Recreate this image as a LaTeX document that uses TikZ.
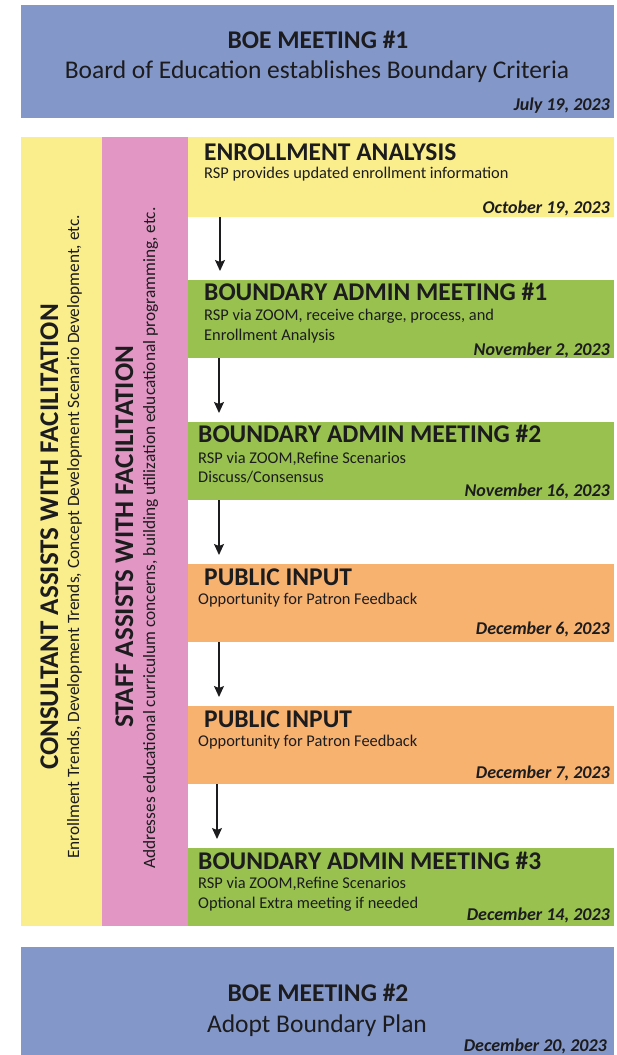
\documentclass[tikz,border=0pt]{standalone}
\usepackage{fontspec}
\setmainfont{Carlito}
\usetikzlibrary{arrows.meta}

\definecolor{boeblue}{RGB}{131,151,201}
\definecolor{padyellow}{RGB}{250,238,140}
\definecolor{padpink}{RGB}{225,150,196}
\definecolor{padgreen}{RGB}{153,193,79}
\definecolor{padorange}{RGB}{248,178,112}
\definecolor{inkdark}{RGB}{28,28,30}

\tikzset{
  band/.style={draw=none, inner sep=0pt, anchor=north west},
  boehead/.style={inner sep=0pt, anchor=base, text=inkdark, font=\fontsize{25.5}{30}\selectfont\bfseries},
  boesub/.style={inner sep=0pt, anchor=base, text=inkdark, font=\fontsize{25.5}{30}\selectfont},
  stephead/.style={inner sep=0pt, anchor=base west, text=inkdark, font=\fontsize{25.5}{30}\selectfont\bfseries},
  stepsub/.style={inner sep=0pt, anchor=base west, text=inkdark, font=\fontsize{16.4}{19}\selectfont},
  datetag/.style={inner sep=0pt, anchor=base east, text=inkdark, font=\fontsize{18}{21}\selectfont\bfseries\itshape},
  sidehead/.style={inner sep=0pt, anchor=base, rotate=90, text=inkdark, font=\fontsize{27}{31}\selectfont\bfseries},
  sidesub/.style={inner sep=0pt, anchor=base, rotate=90, text=inkdark, font=\fontsize{17.3}{20}\selectfont},
  flowarrow/.style={-{Stealth[length=11pt, width=10pt, inset=2pt]}, line width=1.3pt, draw=inkdark, shorten >=9pt}
}

\begin{document}
\begin{tikzpicture}[x=1pt, y=-1pt]
    \useasboundingbox (0,0) rectangle (616,1055);

    % First board meeting
    \node[band, fill=boeblue, minimum width=593pt, minimum height=113pt] (boe1) at (21,5) {};
    \node[boehead] (boe1head) at (318,48) {BOE MEETING \#1};
    \node[boesub] (boe1sub) at (317,78) {Board of Education establishes Boundary Criteria};
    \node[datetag] (boe1date) at (610,110) {July 19, 2023};

    % Side columns
    \node[band, fill=padyellow, minimum width=81pt, minimum height=789pt] (consult) at (21,137) {};
    \node[band, fill=padpink, minimum width=86pt, minimum height=789pt] (staff) at (102,137) {};
    \node[sidehead] (consulthead) at (58,537) {CONSULTANT ASSISTS WITH FACILITATION};
    \node[sidesub] (consultsub) at (79,537) {Enrollment Trends, Development Trends, Concept Development Scenario Development, etc.};
    \node[sidehead] (staffhead) at (133,537) {STAFF ASSISTS WITH FACILITATION};
    \node[sidesub] (staffsub) at (155,538) {Addresses educational curriculum concerns, building utilization educational programming, etc.};

    % Enrollment analysis
    \node[band, fill=padyellow, minimum width=426pt, minimum height=80pt] (enroll) at (188,137) {};
    \node[stephead] (enrollhead) at (204,160) {ENROLLMENT ANALYSIS};
    \node[stepsub] (enrollsub) at (204,178) {RSP provides updated enrollment information};
    \node[datetag] (enrolldate) at (610,213) {October 19, 2023};

    % Boundary admin meeting 1
    \node[band, fill=padgreen, minimum width=426pt, minimum height=78pt] (bam1) at (188,280) {};
    \node[stephead] (bam1head) at (204,300) {BOUNDARY ADMIN MEETING \#1};
    \node[stepsub] (bam1sub) at (204,320) {RSP via ZOOM, receive charge, process, and};
    \node[stepsub] (bam1sub2) at (204,340) {Enrollment Analysis};
    \node[datetag] (bam1date) at (610,355) {November 2, 2023};

    % Boundary admin meeting 2
    \node[band, fill=padgreen, minimum width=426pt, minimum height=78pt] (bam2) at (188,422) {};
    \node[stephead] (bam2head) at (198,442) {BOUNDARY ADMIN MEETING \#2};
    \node[stepsub] (bam2sub) at (198,463) {RSP via ZOOM,Refine Scenarios};
    \node[stepsub] (bam2sub2) at (198,482) {Discuss/Consensus};
    \node[datetag] (bam2date) at (610,496) {November 16, 2023};

    % Public input 1
    \node[band, fill=padorange, minimum width=426pt, minimum height=78pt] (pub1) at (188,564) {};
    \node[stephead] (pub1head) at (204,585) {PUBLIC INPUT};
    \node[stepsub] (pub1sub) at (198,604) {Opportunity for Patron Feedback};
    \node[datetag] (pub1date) at (610,634) {December 6, 2023};

    % Public input 2
    \node[band, fill=padorange, minimum width=426pt, minimum height=78pt] (pub2) at (188,706) {};
    \node[stephead] (pub2head) at (204,727) {PUBLIC INPUT};
    \node[stepsub] (pub2sub) at (198,746) {Opportunity for Patron Feedback};
    \node[datetag] (pub2date) at (610,778) {December 7, 2023};

    % Boundary admin meeting 3
    \node[band, fill=padgreen, minimum width=426pt, minimum height=78pt] (bam3) at (188,848) {};
    \node[stephead] (bam3head) at (198,869) {BOUNDARY ADMIN MEETING \#3};
    \node[stepsub] (bam3sub) at (198,888) {RSP via ZOOM,Refine Scenarios};
    \node[stepsub] (bam3sub2) at (198,908) {Optional Extra meeting if needed};
    \node[datetag] (bam3date) at (610,920) {December 14, 2023};

    % Second board meeting
    \node[band, fill=boeblue, minimum width=593pt, minimum height=108pt] (boe2) at (21,947) {};
    \node[boehead] (boe2head) at (318,1001) {BOE MEETING \#2};
    \node[boesub] (boe2sub) at (317,1032) {Adopt Boundary Plan};
    \node[datetag] (boe2date) at (607,1051) {December 20, 2023};

    % Arrows between the steps
    \draw[flowarrow] ([xshift=32pt]enroll.south west) -- ([xshift=32pt]bam1.north west);
    \draw[flowarrow] ([xshift=31pt]bam1.south west) -- ([xshift=31pt]bam2.north west);
    \draw[flowarrow] ([xshift=31pt]bam2.south west) -- ([xshift=31pt]pub1.north west);
    \draw[flowarrow] ([xshift=31pt]pub1.south west) -- ([xshift=31pt]pub2.north west);
    \draw[flowarrow] ([xshift=29pt]pub2.south west) -- ([xshift=29pt]bam3.north west);
\end{tikzpicture}
\end{document}
